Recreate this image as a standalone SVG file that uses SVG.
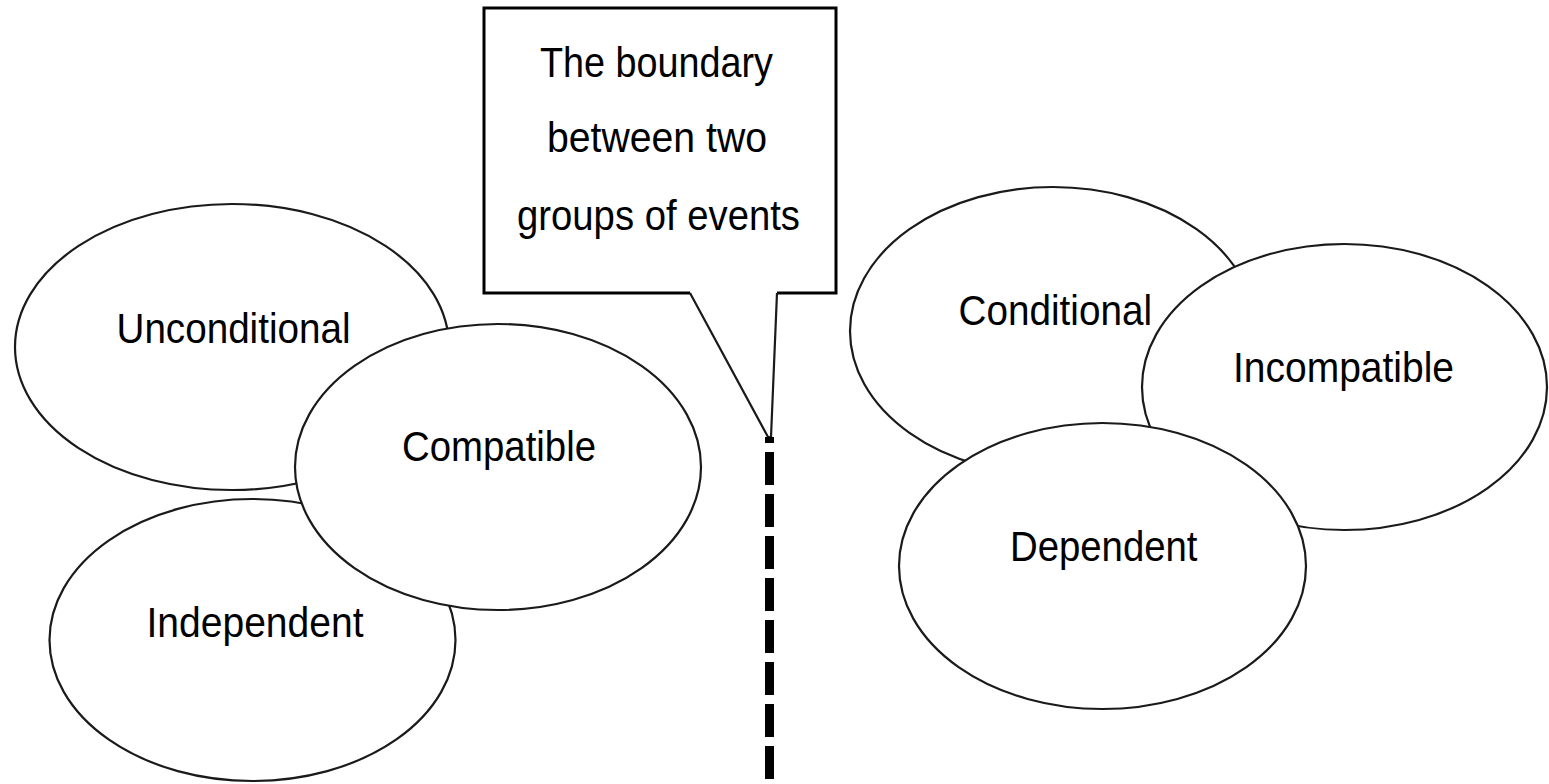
<svg xmlns="http://www.w3.org/2000/svg" width="1549" height="784" viewBox="0 0 1549 784">
<style>
.ell{fill:#fff;stroke:#1a1a1a;stroke-width:2.2}
.lbl{font-family:"Liberation Sans",Arial,sans-serif;font-size:43px;fill:#000}
.box{fill:#fff;stroke:#000;stroke-width:3}
.ptr{fill:none;stroke:#1a1a1a;stroke-width:2.2}
.dash{stroke:#000;stroke-width:9;stroke-dasharray:33 9;stroke-dashoffset:27}
</style>
<rect width="1549" height="784" fill="#fff"/>
<g id="independent">
<ellipse class="ell" cx="252.5" cy="640" rx="203" ry="141"/>
<text class="lbl" x="146.5" y="637" textLength="217" lengthAdjust="spacingAndGlyphs">Independent</text>
</g>
<g id="unconditional">
<ellipse class="ell" cx="232" cy="347" rx="217" ry="143"/>
<text class="lbl" x="116.5" y="343" textLength="234" lengthAdjust="spacingAndGlyphs">Unconditional</text>
</g>
<g id="compatible">
<ellipse class="ell" cx="498" cy="467" rx="203" ry="143"/>
<text class="lbl" x="402" y="461" textLength="194" lengthAdjust="spacingAndGlyphs">Compatible</text>
</g>
<g id="conditional">
<ellipse class="ell" cx="1053" cy="331" rx="203" ry="144"/>
<text class="lbl" x="958.5" y="325" textLength="193.5" lengthAdjust="spacingAndGlyphs">Conditional</text>
</g>
<g id="incompatible">
<ellipse class="ell" cx="1344.5" cy="387" rx="202.5" ry="143"/>
<text class="lbl" x="1233" y="382" textLength="221" lengthAdjust="spacingAndGlyphs">Incompatible</text>
</g>
<g id="dependent">
<ellipse class="ell" cx="1102.5" cy="566" rx="203.5" ry="143"/>
<text class="lbl" x="1010" y="561" textLength="187.5" lengthAdjust="spacingAndGlyphs">Dependent</text>
</g>
<g id="boundary-callout">
<path class="box" d="M690,293 L484,293 L484,8 L836,8 L836,293 L777,293"/>
<text class="lbl" x="540" y="77" textLength="233" lengthAdjust="spacingAndGlyphs">The boundary</text>
<text class="lbl" x="547" y="152" textLength="220" lengthAdjust="spacingAndGlyphs">between two</text>
<text class="lbl" x="517" y="230" textLength="283" lengthAdjust="spacingAndGlyphs">groups of events</text>
</g>
<g id="connectors">
<path class="ptr" d="M690,293 L768,437 L771,437 L777,293"/>
<line class="dash" x1="769.5" y1="437" x2="769.5" y2="784"/>
</g>
</svg>
